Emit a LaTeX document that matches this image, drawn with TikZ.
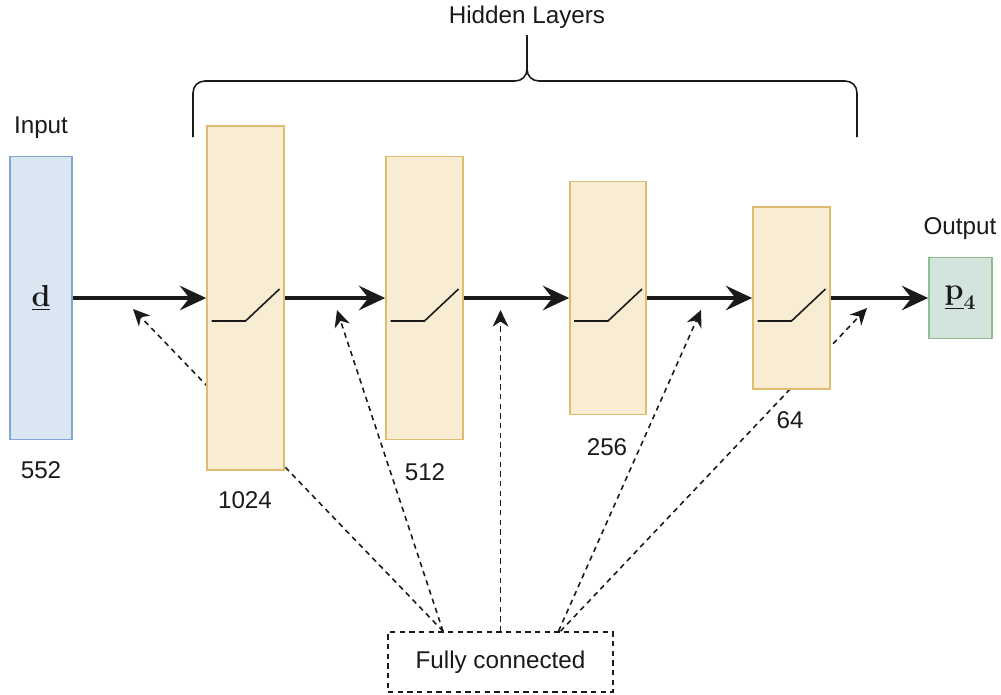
\documentclass[tikz,border=0pt]{standalone}
\usepackage[no-math]{fontspec}
\setmainfont{Liberation Sans}
\usetikzlibrary{arrows.meta}
\definecolor{inFill}{HTML}{DAE6F2}
\definecolor{inDraw}{HTML}{7EA6D6}
\definecolor{hidFill}{HTML}{F8EDD2}
\definecolor{hidDraw}{HTML}{DFBC6E}
\definecolor{outFill}{HTML}{D3E4DC}
\definecolor{outDraw}{HTML}{8DC08A}
\definecolor{ink}{HTML}{1A1A1A}
\tikzset{
  txt/.style={font=\fontsize{13.8}{16}\selectfont, text=ink, inner sep=0pt},
  mathsym/.style={font=\fontsize{17.5}{20}\selectfont, text=ink, inner sep=0pt},
  box/.style={draw, line width=1pt, inner sep=0pt},
  inbox/.style={box, fill=inFill, draw=inDraw},
  hidbox/.style={box, fill=hidFill, draw=hidDraw},
  outbox/.style={box, fill=outFill, draw=outDraw},
  fcbox/.style={draw=ink, fill=white, dash pattern=on 3pt off 2.5pt, line width=0.9pt, inner sep=0pt, minimum width=4.5cm, minimum height=1.2cm, font=\fontsize{13.8}{16}\selectfont, text=ink},
  flow/.style={draw=ink, line width=1.8pt, -{Stealth[length=15pt, width=14pt, inset=5.5pt]}},
  dasharrow/.style={draw=ink, line width=0.9pt, dash pattern=on 3pt off 2.5pt, -{Stealth[length=9.5pt, width=9pt, inset=3pt]}},
  relu/.style={draw=ink, line width=0.9pt},
  brace/.style={draw=ink, line width=0.9pt},
}
\begin{document}
\begin{tikzpicture}[x=0.02cm, y=-0.02cm]
\useasboundingbox (0,0) rectangle (1001,694);

% fully connected box
\node[fcbox] (fc) at (500.5,662) {Fully connected};

% arrow targets
\coordinate (t1) at (133,309);
\coordinate (t2) at (337,310);
\coordinate (t3) at (500.5,310);
\coordinate (t4) at (701,310);
\coordinate (t5) at (867,308);

% dashed connectors (behind the boxes)
\draw[dasharrow] ([xshift=-1.15cm]fc.north) -- (t1);
\draw[dasharrow] ([xshift=-1.15cm]fc.north) -- (t2);
\draw[dasharrow] (fc.north) -- (t3);
\draw[dasharrow] ([xshift=1.16cm]fc.north) -- (t4);
\draw[dasharrow] ([xshift=1.2cm]fc.north) -- (t5);

% boxes
\node[inbox, minimum width=1.24cm, minimum height=5.66cm] (in) at (41,298) {};
\node[hidbox, minimum width=1.54cm, minimum height=6.88cm] (l1) at (245.5,298) {};
\node[hidbox, minimum width=1.54cm, minimum height=5.66cm] (l2) at (424.5,298) {};
\node[hidbox, minimum width=1.52cm, minimum height=4.66cm] (l3) at (608,298) {};
\node[hidbox, minimum width=1.54cm, minimum height=3.64cm] (l4) at (791.5,298) {};
\node[outbox, minimum width=1.26cm, minimum height=1.62cm] (out) at (960.5,298) {};

% symbols inside
\node[mathsym] (dsym) at (in.center) {$\underline{\mathbf{d}}$};
\node[mathsym] (psym) at (out.center) {$\underline{\mathbf{p}}_{\mathbf{4}}$};

% relu glyphs
\foreach \n in {l1,l2,l3,l4}{
  \draw[relu] ([shift={(-34,23)}]\n.center) -- ++(34,0) -- ++(34,-32);
}

% main flow
\draw[flow] (in.east) -- (l1.west);
\draw[flow] (l1.east) -- (l2.west);
\draw[flow] (l2.east) -- (l3.west);
\draw[flow] (l3.east) -- (l4.west);
\draw[flow] (l4.east) -- (out.west);

% labels
\node[txt] (lin) at (41,128) {Input};
\node[txt] (n552) at (41,470) {552};
\node[txt] (n1024) at (245,500) {1024};
\node[txt] (n512) at (425,472) {512};
\node[txt] (n256) at (607,447) {256};
\node[txt] (n64) at (790,420) {64};
\node[txt] (lout) at (960,229) {Output};
\node[txt] (lhid) at (527,17) {Hidden Layers};

% brace
\draw[brace] (193,137) -- (193,93) .. controls (193,86) and (198,81) .. (205,81) -- (515,81) .. controls (522,81) and (527,76) .. (527,69) -- (527,35);
\draw[brace] (527,69) .. controls (527,76) and (532,81) .. (539,81) -- (845,81) .. controls (852,81) and (857,86) .. (857,93) -- (857,137);
\end{tikzpicture}
\end{document}
